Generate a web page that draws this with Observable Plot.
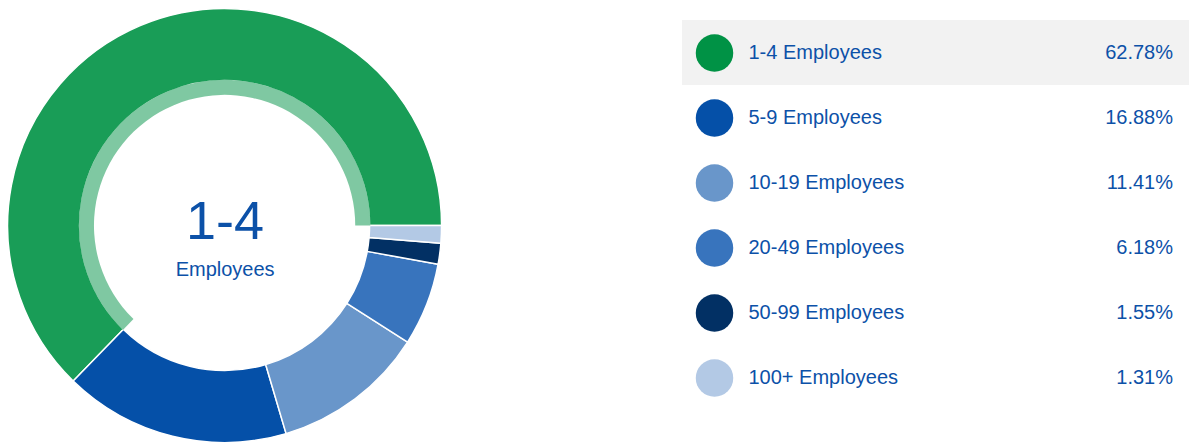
<!DOCTYPE html>
<html>
<head>
<meta charset="utf-8">
<script src="https://cdn.jsdelivr.net/npm/d3@7"></script>
<script src="https://cdn.jsdelivr.net/npm/@observablehq/plot@0.6"></script>
<style>
  html, body { margin: 0; padding: 0; background: #fff; }
  #wrap { position: relative; width: 1189px; height: 444px; overflow: hidden; font-family: "Liberation Sans", Arial, sans-serif; }
  #donut { position: absolute; left: 0; top: 0; }
  #legend { position: absolute; left: 682px; top: 0; }
</style>
</head>
<body>
<div id="wrap"><div id="donut"></div><div id="legend"></div></div>
<script>
const categories = ["1-4 Employees", "5-9 Employees", "10-19 Employees", "20-49 Employees", "50-99 Employees", "100+ Employees"];
const shares = [62.78, 16.88, 11.41, 6.18, 1.55, 1.31];
const colors = ["#009245", "#0550a8", "#6996ca", "#3874bd", "#023064", "#b3c9e5"];
const selected = categories[0];

const textColor = "#0c51a8";
const font = "Liberation Sans, Arial, sans-serif";
const data = categories.map((label, i) => ({label, share: shares[i]}));
const colorOf = d3.scaleOrdinal(categories, colors);

// ---- Donut ----
const donutMark = (index, scales) => {
  const cx = scales.x(0), cy = scales.y(0), R = scales.x(1) - cx;
  const rInner = R * 0.668, rRing = R * 0.602;
  const arcs = d3.pie().value(d => d.share).sort(null)
    .startAngle(Math.PI / 2).endAngle(Math.PI / 2 - 2 * Math.PI)(data);
  const g = d3.create("svg:g").attr("transform", `translate(${cx},${cy})`);
  const arc = d3.arc().innerRadius(rInner).outerRadius(R);
  g.selectAll("path.slice").data(arcs).join("path")
    .attr("class", "slice")
    .attr("d", arc)
    .attr("fill", d => colorOf(d.data.label))
    .attr("fill-opacity", d => d.data.label === selected ? 0.9 : 1)
    .attr("stroke", "#fff")
    .attr("stroke-width", 1.5)
    .attr("stroke-linejoin", "round");
  const sel = arcs.filter(d => d.data.label === selected);
  g.selectAll("path.ring").data(sel).join("path")
    .attr("class", "ring")
    .attr("d", d3.arc().innerRadius(rRing).outerRadius(rInner + 0.8))
    .attr("fill", d => colorOf(d.data.label))
    .attr("fill-opacity", 0.5);
  return g.node();
};

const [big, small] = selected.split(" ");
const donut = Plot.plot({
  width: 450,
  height: 444,
  margin: 0,
  x: {domain: [-1, 1], range: [7.6, 441.6], axis: null},
  y: {domain: [-1, 1], range: [442.5, 8.5], axis: null},
  style: {fontFamily: font, background: "transparent"},
  marks: [
    donutMark,
    Plot.text([big], {x: () => 0, y: () => 0, text: d => d, fontSize: 54, fill: textColor, dy: -4.5, lineAnchor: "middle"}),
    Plot.text([small], {x: () => 0, y: () => 0, text: d => d, fontSize: 20, fill: textColor, dy: 43.5, lineAnchor: "middle"})
  ]
});
document.getElementById("donut").appendChild(donut);

// ---- Legend ----
const legend = Plot.plot({
  width: 507,
  height: 444,
  margin: 0,
  x: {domain: [0, 507], range: [0, 507], axis: null},
  y: {type: "band", domain: categories, range: [20, 410], padding: 0, axis: null},
  color: {domain: categories, range: colors},
  style: {fontFamily: font, background: "transparent"},
  marks: [
    Plot.barX([selected], {x1: () => 0, x2: () => 507, y: d => d, fill: "#f2f2f2"}),
    Plot.dot(data, {x: () => 32, y: "label", r: 18.75, fill: "label", stroke: null}),
    Plot.text(data, {x: () => 66, y: "label", text: "label", textAnchor: "start", fontSize: 20, fill: textColor, lineAnchor: "middle"}),
    Plot.text(data, {x: () => 490.5, y: "label", text: d => d.share.toFixed(2) + "%", textAnchor: "end", fontSize: 20, fill: textColor, lineAnchor: "middle"})
  ]
});
document.getElementById("legend").appendChild(legend);
</script>
</body>
</html>
